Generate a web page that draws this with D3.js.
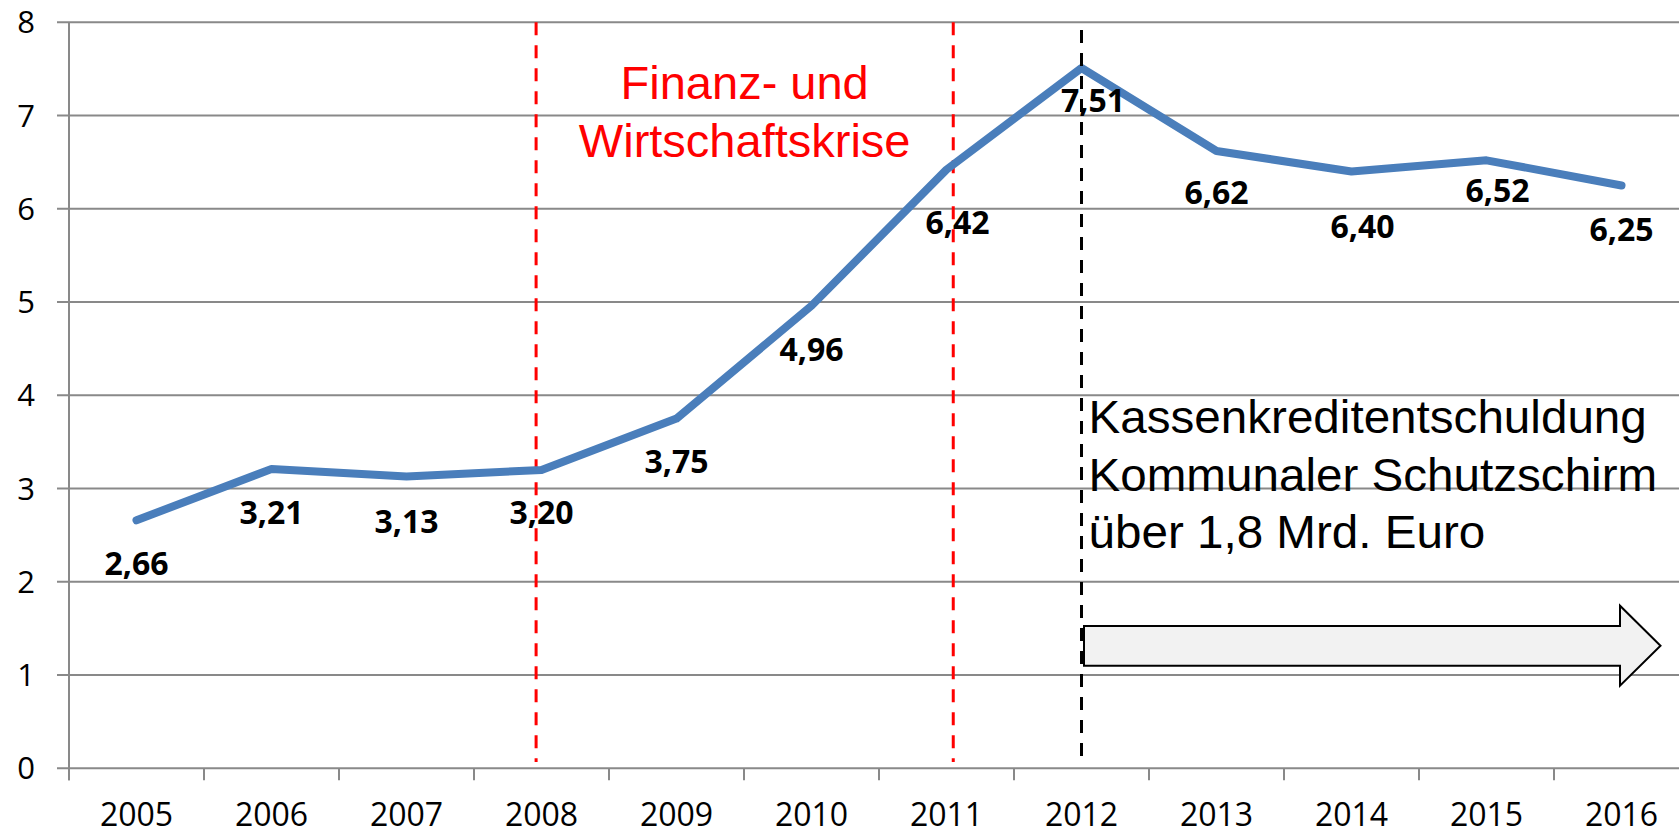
<!DOCTYPE html>
<html>
<head>
<meta charset="utf-8">
<script src="https://cdn.jsdelivr.net/npm/d3@7"></script>
<style>
  html, body { margin: 0; padding: 0; background: #fff; overflow: hidden; }
  svg { display: block; }
</style>
</head>
<body>
<svg id="chart" width="1679" height="830"></svg>
<script>
// ---- data ----
const years = ["2005","2006","2007","2008","2009","2010","2011","2012","2013","2014","2015","2016"];
const values = [2.66, 3.21, 3.13, 3.20, 3.75, 4.96, 6.42, 7.51, 6.62, 6.40, 6.52, 6.25];
const yTicks = [0, 1, 2, 3, 4, 5, 6, 7, 8];
const crisisLines = [3.46, 6.55];         // in category units (band index)
const crisisText = ["Finanz- und", "Wirtschaftskrise"];
const programYear = "2012";
const programText = ["Kassenkreditentschuldung", "Kommunaler Schutzschirm", "über 1,8 Mrd. Euro"];

// ---- layout ----
const W = 1679, H = 830;
const plotLeft = 69, plotBottom = 768.3, plotTop = 22.3;
const bandW = 135;
const svg = d3.select("#chart");

const x = d3.scaleBand().domain(years).range([plotLeft, plotLeft + bandW * years.length]).padding(0);
const bw = x.bandwidth();
const xc = d => x(d) + bw / 2;
const xu = u => plotLeft + u * bw;   // category units -> px
const y = d3.scaleLinear().domain([0, 8]).range([plotBottom, plotTop]);

const gridColor = "#898989";

// gridlines
svg.append("g").selectAll("line").data(yTicks).join("line")
  .attr("x1", plotLeft - 12).attr("x2", W)
  .attr("y1", d => y(d)).attr("y2", d => y(d))
  .attr("stroke", gridColor).attr("stroke-width", 2);

// y axis line
svg.append("line").attr("x1", plotLeft).attr("x2", plotLeft)
  .attr("y1", y(8)).attr("y2", plotBottom + 12)
  .attr("stroke", gridColor).attr("stroke-width", 2);

// y tick labels
svg.append("g").selectAll("text").data(yTicks).join("text")
  .attr("x", 35).attr("y", d => y(d) + 11)
  .attr("text-anchor", "end")
  .attr("font-family", "'Open Sans', sans-serif").attr("font-size", 31)
  .attr("fill", "#000").text(d => d);

// x tick marks at band boundaries
svg.append("g").selectAll("line").data(years).join("line")
  .attr("x1", d => x(d)).attr("x2", d => x(d))
  .attr("y1", plotBottom).attr("y2", plotBottom + 12)
  .attr("stroke", gridColor).attr("stroke-width", 2);

// x labels
svg.append("g").selectAll("text").data(years).join("text")
  .attr("x", d => xc(d)).attr("y", 826)
  .attr("text-anchor", "middle")
  .attr("font-family", "'Open Sans', sans-serif").attr("font-size", 32)
  .attr("fill", "#000").text(d => d);

// crisis dashed lines
svg.append("g").selectAll("line").data(crisisLines).join("line")
  .attr("x1", d => xu(d)).attr("x2", d => xu(d))
  .attr("y1", y(8)).attr("y2", 762)
  .attr("stroke", "#ff0000").attr("stroke-width", 3)
  .attr("stroke-dasharray", "13 10");

// crisis text
const ct = svg.append("text")
  .attr("text-anchor", "middle")
  .attr("font-family", "'Liberation Sans', Arial, sans-serif").attr("font-size", 47)
  .attr("fill", "#ff0000");
ct.selectAll("tspan").data(crisisText).join("tspan")
  .attr("x", (xu(crisisLines[0]) + xu(crisisLines[1])) / 2)
  .attr("y", (d, i) => 99 + i * 57.7)
  .text(d => d);

// line
const line = d3.line().x((d, i) => xc(years[i])).y(d => y(d));
svg.append("path").datum(values)
  .attr("d", line)
  .attr("fill", "none").attr("stroke", "#4a7ebb").attr("stroke-width", 8)
  .attr("stroke-linejoin", "round").attr("stroke-linecap", "round");

// program dashed line (black)
svg.append("line")
  .attr("x1", xc(programYear)).attr("x2", xc(programYear))
  .attr("y1", 30).attr("y2", 764)
  .attr("stroke", "#000").attr("stroke-width", 3)
  .attr("stroke-dasharray", "13 10");

// data labels (offsets = manual placement)
const labelOffsets = [[0,43],[0,44],[0,44.6],[0,43],[0,43],[0,43.7],[11,53],[11.5,33],[0,42],[11,54.7],[11,30.6],[0,43.7]];
svg.append("g").selectAll("text").data(values).join("text")
  .attr("x", (d, i) => xc(years[i]) + labelOffsets[i][0])
  .attr("y", (d, i) => y(d) + labelOffsets[i][1] + 11.5)
  .attr("text-anchor", "middle")
  .attr("font-family", "'Open Sans', sans-serif").attr("font-size", 32)
  .attr("font-weight", "bold").attr("fill", "#000")
  .text(d => d.toFixed(2).replace(".", ","));

// program text
const pt = svg.append("g")
  .attr("transform", `translate(${xc(programYear) + 7},0) scale(1.035,1)`)
  .append("text")
  .attr("font-family", "'Liberation Sans', Arial, sans-serif").attr("font-size", 46)
  .attr("fill", "#000");
pt.selectAll("tspan").data(programText).join("tspan")
  .attr("x", 0)
  .attr("y", (d, i) => 433.3 + i * 57.5)
  .text(d => d);

// arrow
const ax0 = xc(programYear) + 2.5, axBase = xc("2016") - 1.5, axTip = xc("2016") + 39;
const bTop = y(1.525), bBot = y(1.10), hTop = y(1.744), hBot = y(0.886), tipY = y(1.315);
const arrowPath = d3.path();
arrowPath.moveTo(ax0, bTop);
arrowPath.lineTo(axBase, bTop);
arrowPath.lineTo(axBase, hTop);
arrowPath.lineTo(axTip, tipY);
arrowPath.lineTo(axBase, hBot);
arrowPath.lineTo(axBase, bBot);
arrowPath.lineTo(ax0, bBot);
arrowPath.closePath();
svg.append("path").attr("d", arrowPath.toString())
  .attr("fill", "#f2f2f2").attr("stroke", "#000").attr("stroke-width", 2)
  .attr("stroke-linejoin", "miter");
</script>
</body>
</html>
